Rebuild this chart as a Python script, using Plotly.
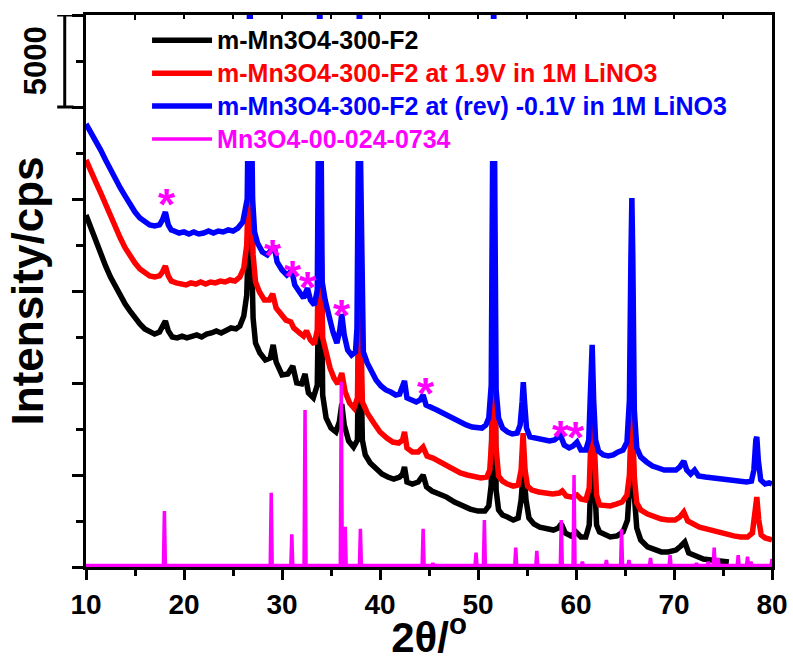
import plotly.graph_objects as go

# ---------------- XRD patterns (2-theta in degrees, intensity in cps) ----------------
two_theta_blue = [
    10.0, 10.5, 11.0, 11.5, 12.0, 12.5, 13.0, 13.5, 14.0, 14.5, 15.0, 15.5, 16.0, 16.5, 17.0,
    17.5, 17.8, 18.1, 18.4, 18.7, 19.0, 19.5, 20.0, 20.5, 21.0, 21.5, 22.0, 22.5, 23.0, 23.5,
    24.0, 24.5, 25.0, 25.5, 26.0, 26.3, 26.45, 26.6, 26.72, 26.84, 27.0, 27.2, 27.5, 28.0, 28.5,
    28.9, 29.2, 29.5, 30.0, 30.5, 31.0, 31.3, 31.8, 32.2, 32.6, 32.9, 33.3, 33.6, 33.72, 33.85,
    33.98, 34.1, 34.4, 34.8, 35.2, 35.6, 35.9, 36.1, 36.35, 36.7, 37.1, 37.5, 37.65, 37.78, 37.9,
    38.02, 38.15, 38.3, 38.7, 39.1, 39.6, 40.1, 40.6, 41.1, 41.6, 42.0, 42.3, 42.5, 42.75, 43.2,
    43.7, 44.1, 44.4, 44.7, 45.2, 45.8, 46.4, 47.0, 47.6, 48.2, 48.8, 49.4, 49.9, 50.4, 50.8,
    51.1, 51.35, 51.48, 51.6, 51.72, 51.85, 52.1, 52.5, 53.0, 53.5, 54.0, 54.3, 54.5, 54.62, 54.75,
    54.95, 55.3, 55.8, 56.3, 56.8, 57.3, 57.8, 58.4, 58.8, 59.3, 59.7, 60.1, 60.5, 61.0, 61.3,
    61.5, 61.65, 61.8, 62.0, 62.3, 62.8, 63.3, 63.8, 64.3, 64.8, 65.2, 65.45, 65.6, 65.7, 65.8,
    65.95, 66.2, 66.6, 67.2, 67.8, 68.4, 69.0, 69.6, 70.2, 70.6, 71.0, 71.3, 71.7, 72.1, 72.5,
    73.2, 73.9, 74.6, 75.3, 76.0, 76.7, 77.4, 77.9, 78.15, 78.35, 78.45, 78.6, 78.85, 79.3, 79.7,
    80.0,
]
intensity_blue = [
    24080, 23640, 23210, 22660, 22120, 21580, 21140, 20600, 20160, 19670, 19290, 18970, 18750, 18590, 18530,
    18590, 18860, 19290, 18590, 18320, 18260, 18150, 18210, 18100, 18210, 18100, 18150, 18260, 18150, 18260,
    18210, 18320, 18260, 18420, 18750, 19400, 20000, 27000, 31630, 27000, 20000, 18210, 17610, 17120, 16960,
    17230, 17450, 16580, 16140, 15870, 16090, 15330, 14950, 14620, 15160, 14510, 14240, 15050, 24000, 31360,
    24000, 15490, 14510, 13530, 12770, 12170, 12880, 13750, 12610, 11790, 11520, 11690, 13000, 22000, 31630,
    22000, 13000, 11690, 11090, 10600, 10160, 9840, 9620, 9510, 9350, 9400, 9730, 10110, 9190, 9080,
    8970, 9080, 9350, 8800, 8640, 8530, 8370, 8210, 7990, 7880, 7720, 7610, 7550, 7550, 7720,
    8100, 9890, 20000, 31630, 20000, 9620, 8100, 7550, 7340, 7230, 7280, 7720, 8970, 10050, 8970,
    7550, 7070, 7010, 6900, 6850, 6850, 6900, 7170, 6630, 6470, 6580, 6790, 6360, 6360, 6900,
    9080, 12070, 9080, 6900, 6300, 6090, 6030, 6090, 6250, 6360, 6790, 9080, 16690, 20050, 16690,
    8530, 6470, 5980, 5710, 5490, 5380, 5270, 5270, 5270, 5440, 5760, 5270, 5050, 5270, 4950,
    4890, 4840, 4780, 4730, 4670, 4670, 4620, 4670, 5270, 6900, 7070, 5820, 4730, 4510, 4570,
    4510,
]

two_theta_red = [
    10.0, 10.5, 11.0, 11.5, 12.0, 12.5, 13.0, 13.5, 14.0, 14.5, 15.0, 15.5, 16.0, 16.5, 17.0,
    17.5, 17.8, 18.1, 18.4, 18.7, 19.2, 19.7, 20.2, 20.7, 21.2, 21.7, 22.2, 22.7, 23.2, 23.7,
    24.2, 24.7, 25.2, 25.7, 26.1, 26.4, 26.66, 26.72, 26.78, 27.05, 27.3, 27.7, 28.2, 28.7, 29.05,
    29.4, 29.9, 30.4, 30.9, 31.2, 31.7, 32.2, 32.5, 32.9, 33.3, 33.6, 33.8, 33.85, 33.9, 34.15,
    34.5, 34.9, 35.3, 35.7, 36.1, 36.45, 36.9, 37.35, 37.7, 37.86, 37.9, 37.94, 38.2, 38.7, 39.3,
    40.0, 40.7, 41.3, 41.9, 42.3, 42.5, 42.75, 43.3, 43.9, 44.4, 44.8, 45.4, 46.1, 46.8, 47.5,
    48.2, 48.9, 49.6, 50.3, 50.9, 51.2, 51.4, 51.56, 51.6, 51.64, 51.82, 52.1, 52.5, 53.0, 53.6,
    54.1, 54.4, 54.6, 54.8, 55.05, 55.5, 56.2, 56.9, 57.6, 58.3, 58.6, 59.0, 59.6, 60.1, 60.5,
    61.0, 61.35, 61.55, 61.7, 61.85, 62.1, 62.4, 62.9, 63.5, 64.1, 64.7, 65.2, 65.45, 65.62, 65.7,
    65.78, 65.95, 66.2, 66.6, 67.3, 68.0, 68.7, 69.4, 70.1, 70.6, 71.0, 71.4, 71.9, 72.6, 73.3,
    74.0, 74.7, 75.4, 76.1, 76.8, 77.5, 78.0, 78.25, 78.45, 78.65, 78.9, 79.3, 79.7, 80.0,
]
intensity_red = [
    22120, 21580, 20920, 20330, 19670, 19020, 18420, 17880, 17340, 16900, 16520, 16200, 15980, 15820, 15760,
    15820, 16030, 16360, 15820, 15540, 15440, 15380, 15330, 15440, 15380, 15490, 15380, 15490, 15440, 15540,
    15490, 15600, 15540, 15760, 16250, 17500, 22120, 28750, 22120, 16960, 15490, 14950, 14510, 14510, 14840,
    14080, 13700, 13420, 13320, 12990, 12770, 12550, 12830, 12340, 12120, 12880, 19950, 28530, 19950, 12450,
    11520, 10820, 10270, 9950, 10540, 9510, 8910, 8640, 9190, 15600, 28370, 15600, 8970, 8370, 7880,
    7340, 7010, 6790, 6740, 6900, 7340, 6470, 6250, 6250, 6520, 6030, 5920, 5710, 5490, 5270,
    5110, 5000, 4890, 4840, 4890, 5270, 6900, 17230, 28640, 17230, 6630, 4950, 4670, 4510, 4400,
    4460, 5270, 7280, 5270, 4400, 4180, 4080, 4020, 3970, 4020, 4130, 3860, 3800, 3910, 3700,
    3640, 4290, 7450, 9080, 6900, 3910, 3370, 3320, 3320, 3420, 3530, 3910, 5000, 7600, 8700,
    7600, 4900, 3480, 3100, 2880, 2720, 2610, 2550, 2550, 2720, 2990, 2500, 2340, 2170, 2070,
    1960, 1850, 1790, 1690, 1630, 1630, 1850, 2830, 3800, 2550, 1740, 1580, 1520, 1470,
]

two_theta_black = [
    10.0, 10.5, 11.0, 11.5, 12.0, 12.5, 13.0, 13.5, 14.0, 14.5, 15.0, 15.5, 16.0, 16.5, 17.0,
    17.5, 17.8, 18.1, 18.4, 18.8, 19.3, 19.8, 20.3, 20.8, 21.3, 21.8, 22.3, 22.8, 23.3, 23.8,
    24.3, 24.8, 25.3, 25.7, 26.1, 26.4, 26.6, 26.72, 26.85, 27.05, 27.3, 27.75, 28.3, 28.8, 29.1,
    29.4, 30.0, 30.6, 31.1, 31.5, 32.0, 32.35, 32.7, 33.2, 33.6, 33.75, 33.85, 33.95, 34.15, 34.5,
    35.0, 35.5, 35.85, 36.1, 36.35, 36.8, 37.3, 37.7, 37.82, 37.9, 38.0, 38.2, 38.5, 39.0, 39.6,
    40.2, 40.8, 41.4, 42.0, 42.3, 42.5, 42.75, 43.3, 43.9, 44.4, 44.75, 45.3, 46.0, 46.8, 47.6,
    48.4, 49.2, 50.0, 50.7, 51.1, 51.35, 51.52, 51.6, 51.68, 51.85, 52.1, 52.5, 53.0, 53.6, 54.1,
    54.4, 54.65, 54.9, 55.2, 55.7, 56.3, 57.0, 57.7, 58.2, 58.5, 58.9, 59.5, 60.0, 60.5, 61.0,
    61.35, 61.55, 61.7, 61.85, 62.1, 62.4, 62.9, 63.5, 64.2, 64.8, 65.25, 65.5, 65.62, 65.7, 65.8,
    65.95, 66.2, 66.6, 67.3, 68.0, 68.7, 69.4, 70.2, 70.7, 71.1, 71.5, 72.2, 73.0, 73.8, 74.5,
    75.0, 75.6,
]
intensity_black = [
    19130, 18420, 17660, 16960, 16360, 15760, 15220, 14730, 14290, 13910, 13530, 13210, 12940, 12770, 12660,
    12770, 13040, 13370, 12830, 12500, 12450, 12550, 12450, 12550, 12610, 12500, 12660, 12720, 12830, 12720,
    12880, 12990, 12940, 13100, 13640, 14780, 18320, 25930, 18320, 13530, 12170, 11630, 11250, 11360, 12070,
    11140, 10440, 10490, 10920, 10000, 9950, 10490, 9460, 9190, 9890, 15600, 25930, 15600, 9350, 8100,
    7550, 7340, 7880, 8860, 7720, 6850, 6520, 6900, 12880, 25650, 12880, 6900, 6090, 5650, 5330,
    5050, 4890, 4780, 4890, 5050, 5440, 4620, 4510, 4620, 5000, 4350, 4130, 3970, 3800, 3530,
    3320, 3150, 3040, 3040, 3320, 4460, 14510, 26470, 14510, 4180, 3100, 2830, 2720, 2550, 2660,
    3640, 5380, 3640, 2660, 2340, 2170, 2070, 2010, 2120, 2340, 1850, 1690, 1900, 1630, 1630,
    2280, 5270, 7450, 5270, 2280, 1900, 1740, 1630, 1690, 1900, 2550, 4600, 6800, 7800, 6800,
    3900, 2120, 1470, 1090, 920, 820, 820, 920, 1140, 1360, 760, 600, 430, 380, 330,
    330, 270,
]

# Mn3O4 reference card 00-024-0734: line positions and heights (cps)
ref_pos = [18.0, 28.9, 31.0, 32.35, 36.05, 36.45, 38.0, 44.4, 45.4, 49.8, 50.65, 53.85, 56.0, 58.5,
           59.8, 60.65, 63.1, 64.65, 65.4, 67.6, 69.6, 72.3, 73.5, 74.1, 74.5, 76.55, 77.5, 77.85, 80.0]
ref_height = [3040, 4040, 1780, 8530, 10070, 2190, 2070, 2070, 200, 780, 2550, 1050, 870, 2550,
              5000, 290, 380, 2050, 380, 490, 650, 200, 290, 1050, 490, 650, 560, 290, 430]
ref_base = 80

# Mn3O4 reflections marked on the reduced pattern
star_x = [18.3, 29.1, 31.1, 32.7, 36.1, 44.7, 58.5, 60.0]
star_y = [20110, 17390, 16250, 15600, 14130, 9890, 7550, 7450]

# Scale bar on the intensity axis
scale_bar = [25000, 30000]

x_ticks = [10, 20, 30, 40, 50, 60, 70, 80]

FONT = "Arial, Liberation Sans, sans-serif"

# Stick pattern drawn as a line: each reflection is a narrow spike from the baseline
ref_x, ref_y = [10.0], [ref_base]
for p, h in zip(ref_pos, ref_height):
    ref_x += [p - 0.1, p, p + 0.1]
    ref_y += [ref_base, h, ref_base]
if ref_x[-1] < 80:
    ref_x.append(80.0)
    ref_y.append(ref_base)

fig = go.Figure()

# drawing order: black first, red over it, blue on top
series = [
    (two_theta_black, intensity_black, "#000000", "m-Mn3O4-300-F2", 1, 5.5),
    (two_theta_red, intensity_red, "#ff0000", "m-Mn3O4-300-F2 at 1.9V in 1M LiNO3", 2, 5.5),
    (two_theta_blue, intensity_blue, "#0000ff", "m-Mn3O4-300-F2 at (rev) -0.1V in 1M LiNO3", 3, 5.5),
]
for xs, ys, color, label, rank, lw in series:
    fig.add_trace(go.Scatter(
        x=xs, y=ys, mode="lines",
        line=dict(color=color, width=lw),
        name=f'<span style="color:{color};font-size:25px">{label}</span>',
        legendrank=rank,
    ))

fig.add_trace(go.Scatter(
    x=ref_x, y=ref_y, mode="lines", xaxis="x2",
    line=dict(color="#ff00ff", width=3.5),
    name='<span style="color:#ff00ff;font-size:25px">Mn3O4-00-024-0734</span>',
    legendrank=4,
))

annotations = [
    dict(x=sx, y=sy, xref="x", yref="y", text="<b>*</b>", showarrow=False,
         xanchor="center", yanchor="middle",
         font=dict(family=FONT, size=44, color="#ff00ff"), yshift=-8)
    for sx, sy in zip(star_x, star_y)
]
annotations.append(dict(
    x=-0.074, y=sum(scale_bar) / 2, xref="paper", yref="y",
    xanchor="center", yanchor="middle",
    text=f"<b>{scale_bar[1] - scale_bar[0]}</b>", textangle=-90, showarrow=False,
    font=dict(family=FONT, size=31, color="black"),
))

shapes = [
    dict(type="line", xref="paper", yref="y", x0=-0.031, x1=-0.031,
         y0=scale_bar[0], y1=scale_bar[1], line=dict(color="black", width=3)),
    dict(type="line", xref="paper", yref="y", x0=-0.042, x1=-0.018,
         y0=scale_bar[0], y1=scale_bar[0], line=dict(color="black", width=3)),
    dict(type="line", xref="paper", yref="y", x0=-0.042, x1=-0.018,
         y0=scale_bar[1], y1=scale_bar[1], line=dict(color="black", width=3)),
]

fig.update_layout(
    width=793, height=661,
    margin=dict(l=86, r=21, t=15, b=94, autoexpand=False),
    paper_bgcolor="white", plot_bgcolor="white",
    font=dict(family=FONT, color="black"),
    showlegend=True,
    legend=dict(
        x=0.089, y=0.993, xanchor="left", yanchor="top",
        bgcolor="white", borderwidth=0, itemwidth=60,
        font=dict(family=FONT, size=23, weight="bold"),
        traceorder="normal", tracegroupgap=0,
    ),
    xaxis=dict(
        range=[10, 80], tickvals=x_ticks, ticks="outside", ticklen=10, tickwidth=2.5,
        tickcolor="black", showline=True, linewidth=3, linecolor="black", mirror=True,
        showgrid=False, zeroline=False, automargin=False,
        tickfont=dict(family=FONT, size=28, color="black", weight="bold"),
        minor=dict(dtick=5, tick0=10, ticks="outside", ticklen=6, tickwidth=2.5, tickcolor="black"),
        title=dict(text="<b>2θ/<sup>o</sup></b>", font=dict(family=FONT, size=42, color="black"),
                   standoff=6),
    ),
    xaxis2=dict(
        matches="x", overlaying="x", side="top", anchor="y", range=[10, 80],
        tick0=10, dtick=5, ticks="inside", ticklen=5, tickwidth=2, tickcolor="black",
        showticklabels=False, showline=False, showgrid=False, zeroline=False, automargin=False,
    ),
    yaxis=dict(
        range=[0, 30000], tick0=0, dtick=5000, ticks="outside", ticklen=11, tickwidth=2.5,
        tickcolor="black", showticklabels=False, showline=True, linewidth=3,
        linecolor="black", mirror=True, showgrid=False, zeroline=False, automargin=False,
        minor=dict(dtick=2500, ticks="outside", ticklen=7, tickwidth=2.5, tickcolor="black"),
        title=dict(text="<b>Intensity/cps</b>", font=dict(family=FONT, size=44, color="black"),
                   standoff=15),
    ),
    annotations=annotations,
    shapes=shapes,
)

fig.write_html("out.html")
